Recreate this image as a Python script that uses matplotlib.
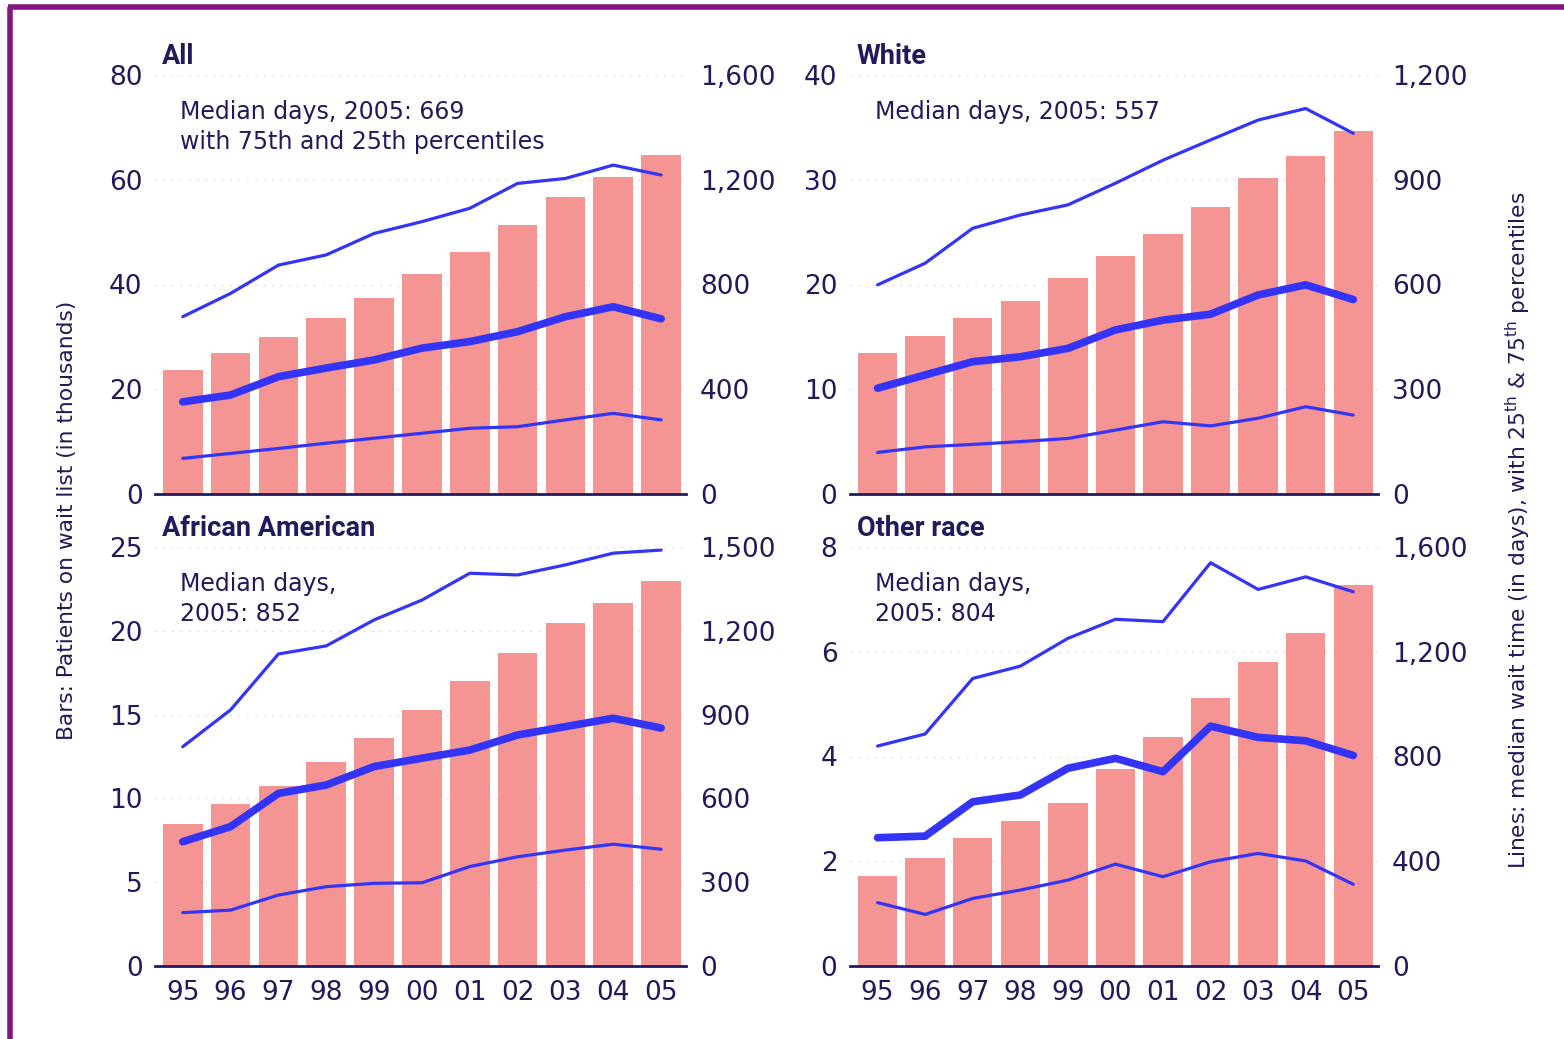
import matplotlib.pyplot as plt
from matplotlib.lines import Line2D
from matplotlib.ticker import FuncFormatter

years = ["95", "96", "97", "98", "99", "00", "01", "02", "03", "04", "05"]

# bars: patients on wait list (thousands)
all_bars = [23.7, 26.9, 30.0, 33.6, 37.4, 42.0, 46.2, 51.4, 56.7, 60.5, 64.7]
white_bars = [13.5, 15.1, 16.8, 18.4, 20.6, 22.7, 24.8, 27.4, 30.2, 32.3, 34.7]
afam_bars = [8.5, 9.65, 10.76, 12.2, 13.6, 15.3, 17.0, 18.66, 20.45, 21.66, 23.0]
other_bars = [1.72, 2.06, 2.44, 2.77, 3.12, 3.77, 4.37, 5.11, 5.81, 6.36, 7.27]

# lines: wait time in days (median, 75th, 25th)
all_med = [352, 378, 448, 481, 512, 557, 582, 620, 677, 715, 669]
all_p75 = [677, 766, 874, 913, 995, 1040, 1091, 1186, 1205, 1256, 1218]
all_p25 = [136, 155, 174, 194, 213, 232, 251, 257, 283, 308, 283]

white_med = [303, 341, 379, 393, 417, 470, 498, 515, 570, 599, 557]
white_p75 = [599, 661, 761, 799, 828, 890, 956, 1014, 1071, 1104, 1033]
white_p25 = [119, 135, 142, 150, 159, 183, 207, 195, 217, 250, 226]

afam_med = [445, 499, 618, 648, 714, 744, 773, 827, 857, 887, 852]
afam_p75 = [785, 917, 1117, 1146, 1239, 1310, 1406, 1400, 1436, 1478, 1489]
afam_p25 = [191, 200, 254, 284, 296, 298, 356, 391, 415, 436, 418]

other_med = [490, 496, 627, 653, 755, 793, 742, 916, 873, 860, 804]
other_p75 = [840, 886, 1098, 1145, 1251, 1324, 1315, 1540, 1438, 1486, 1429]
other_p25 = [242, 197, 258, 290, 328, 389, 341, 398, 430, 401, 312]

panels = [
    ("All", "Median days, 2005: 669\nwith 75th and 25th percentiles",
     all_bars, all_med, all_p75, all_p25, 80, 20, 1600, 400),
    ("White", "Median days, 2005: 557",
     white_bars, white_med, white_p75, white_p25, 40, 10, 1200, 300),
    ("African American", "Median days,\n2005: 852",
     afam_bars, afam_med, afam_p75, afam_p25, 25, 5, 1500, 300),
    ("Other race", "Median days,\n2005: 804",
     other_bars, other_med, other_p75, other_p25, 8, 2, 1600, 400),
]

W, H = 1564, 1039
navy = "#1f1b5c"
bar_col = "#f49593"
line_col = "#3434f6"
purple = "#85157f"
plt.rcParams["font.family"] = ["DejaVu Sans"]
title_font = ["Roboto", "DejaVu Sans"]

fig = plt.figure(figsize=(W / 100, H / 100), dpi=100)

# axes boxes in pixels: left, top, right, bottom
boxes = [(155, 75, 686, 494), (850, 75, 1378, 494),
         (155, 547, 686, 966), (850, 547, 1378, 966)]

x = list(range(len(years)))
for i, ((title, note, bars, med, p75, p25, ymax, ystep, rmax, rstep), (l, t, r, b)) in enumerate(zip(panels, boxes)):
    ax = fig.add_axes([l / W, 1 - b / H, (r - l) / W, (b - t) / H])
    ax.set_ylim(0, ymax)
    ax.set_xlim(-0.58, 10.52)
    ax.set_yticks(range(0, ymax + 1, ystep))
    for yv in range(ystep, ymax + 1, ystep):
        ax.axhline(yv, color="#d4d4e0", lw=1, ls=(0, (1, 5)), zorder=0)
    ax.bar(x, bars, width=0.83, color=bar_col, zorder=1)
    ax.set_xticks(x)
    if i >= 2:
        ax.set_xticklabels(years)
    else:
        ax.set_xticklabels([])
    for s in ["top", "left", "right"]:
        ax.spines[s].set_visible(False)
    ax.spines["bottom"].set_color(navy)
    ax.spines["bottom"].set_linewidth(2)
    ax.tick_params(length=0, labelsize=19, colors=navy)
    ax.tick_params(axis="y", pad=9)
    ax.tick_params(axis="x", pad=10)

    ax2 = ax.twinx()
    ax2.set_ylim(0, rmax)
    ax2.set_yticks(range(0, rmax + 1, rstep))
    ax2.yaxis.set_major_formatter(FuncFormatter(lambda v, p: f"{int(v):,}"))
    for s in ["top", "left", "right", "bottom"]:
        ax2.spines[s].set_visible(False)
    ax2.tick_params(length=0, labelsize=19, colors=navy, pad=10)
    ax2.plot(x, p75, color=line_col, lw=2.3, solid_capstyle="round")
    ax2.plot(x, p25, color=line_col, lw=2.3, solid_capstyle="round")
    ax2.plot(x, med, color=line_col, lw=5.5, solid_capstyle="round")

    ax.text(7 / (r - l), 1.012, title, transform=ax.transAxes, family=title_font,
            fontweight="bold", fontsize=19.5, color=navy, va="bottom", ha="left")
    ax.text(25 / (r - l), 1 - 25 / (b - t), note, transform=ax.transAxes,
            fontsize=17, color=navy, va="top", ha="left", linespacing=1.3)

fig.text(67 / W, 1 - 520 / H, "Bars: Patients on wait list (in thousands)",
         rotation=90, ha="center", va="center", fontsize=15.7, color=navy)
fig.text(1518 / W, 1 - 530 / H,
         r"Lines: median wait time (in days), with 25$^{\rm th}$ & 75$^{\rm th}$ percentiles",
         rotation=90, ha="center", va="center", fontsize=15.7, color=navy)

# purple frame (left and top edges)
fig.add_artist(Line2D([10 / W, 10 / W], [0, 1 - 7 / H], color=purple, lw=4,
                      transform=fig.transFigure, solid_capstyle="butt"))
fig.add_artist(Line2D([8 / W, 1], [1 - 7 / H, 1 - 7 / H], color=purple, lw=4,
                      transform=fig.transFigure, solid_capstyle="butt"))

fig.savefig("out.png", dpi=100)
